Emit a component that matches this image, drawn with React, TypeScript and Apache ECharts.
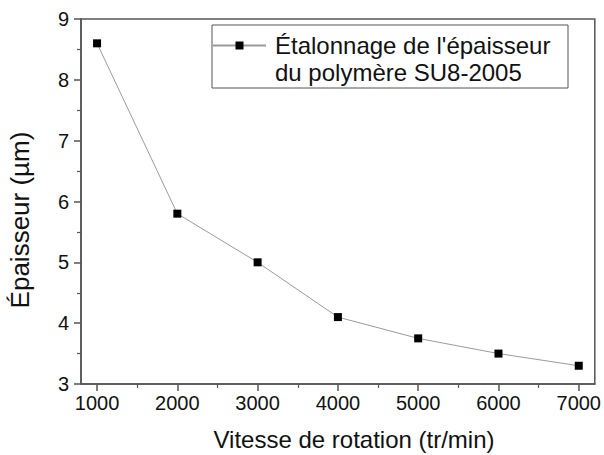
import React, { useEffect, useRef } from "react";
import * as echarts from "echarts";

const speeds = [1000, 2000, 3000, 4000, 5000, 6000, 7000];
const minorSpeeds = [1500, 2500, 3500, 4500, 5500, 6500];
const thickness = [8.6, 5.8, 5.0, 4.1, 3.75, 3.5, 3.3];
const seriesName = "Étalonnage de l'épaisseur\ndu polymère SU8-2005";
const xTitle = "Vitesse de rotation (tr/min)";
const yTitle = "Épaisseur (µm)";

export default function App() {
  const ref = useRef<HTMLDivElement>(null);
  useEffect(() => {
    if (!ref.current) return;
    const chart = echarts.init(ref.current, undefined, { renderer: "svg" });
    const font = "'Liberation Sans', Arial, sans-serif";
    const axisColor = "#555";
    const common = {
      type: "value",
      min: 800,
      max: 7200,
      splitLine: { show: false },
    };
    chart.setOption({
      animation: false,
      backgroundColor: "#fff",
      textStyle: { fontFamily: font },
      grid: {
        left: 81,
        right: 7,
        top: 19,
        bottom: 71,
        show: true,
        borderColor: axisColor,
        borderWidth: 1.5,
        backgroundColor: "transparent",
      },
      legend: {
        show: true,
        left: 212,
        top: 5,
        orient: "vertical",
        padding: 0,
        itemWidth: 53,
        itemHeight: 10,
        itemGap: 0,
        formatter: (name: string) => "\n" + name,
        textStyle: { fontFamily: font, fontSize: 24, color: "#111", lineHeight: 27, padding: [0, 0, 0, 4] },
        data: [{ name: seriesName }],
      },
      graphic: [
        {
          type: "rect",
          shape: { x: 212, y: 25, width: 356, height: 63 },
          style: { fill: "none", stroke: "#555", lineWidth: 1 },
          silent: true,
        },
        {
          type: "text",
          x: 354,
          y: 439,
          style: { text: xTitle, fontFamily: font, fontSize: 24, fill: "#111", textAlign: "center", textVerticalAlign: "middle" },
        },
        {
          type: "text",
          x: 20,
          y: 220,
          rotation: Math.PI / 2,
          style: { text: yTitle, fontFamily: font, fontSize: 26, fill: "#111", textAlign: "center", textVerticalAlign: "middle" },
        },
      ],
      xAxis: [
        {
          ...common,
          axisLine: { show: true, lineStyle: { color: axisColor, width: 1.5 } },
          axisTick: { show: true, inside: false, length: 7, lineStyle: { color: axisColor, width: 1.5 }, customValues: speeds },
          axisLabel: {
            fontFamily: font,
            fontSize: 20,
            color: "#111",
            margin: 9,
            customValues: speeds,
            formatter: (v: number) => String(v),
          },
        },
        {
          ...common,
          position: "bottom",
          axisLine: { show: false },
          axisTick: { show: true, inside: false, length: 4, lineStyle: { color: axisColor, width: 1.2 }, customValues: minorSpeeds },
          axisLabel: { show: false, customValues: minorSpeeds },
        },
      ],
      yAxis: {
        type: "value",
        min: 3,
        max: 9,
        interval: 1,
        axisLine: { show: true, lineStyle: { color: axisColor, width: 1.5 } },
        axisTick: { show: true, inside: false, length: 7, lineStyle: { color: axisColor, width: 1.5 } },
        minorTick: { show: true, splitNumber: 2, length: 4, lineStyle: { color: axisColor, width: 1.2 } },
        axisLabel: { fontFamily: font, fontSize: 20, color: "#111", margin: 12 },
        splitLine: { show: false },
      },
      series: [
        {
          name: seriesName,
          type: "line",
          xAxisIndex: 0,
          data: speeds.map((s, i) => [s, thickness[i]]),
          symbol: "rect",
          symbolSize: 8,
          itemStyle: { color: "#000" },
          lineStyle: { color: "#9a9a9a", width: 1 },
        },
      ],
    });
    return () => chart.dispose();
  }, []);
  return <div ref={ref} style={{ width: 604, height: 455, position: "absolute", left: 0, top: 0 }} />;
}
